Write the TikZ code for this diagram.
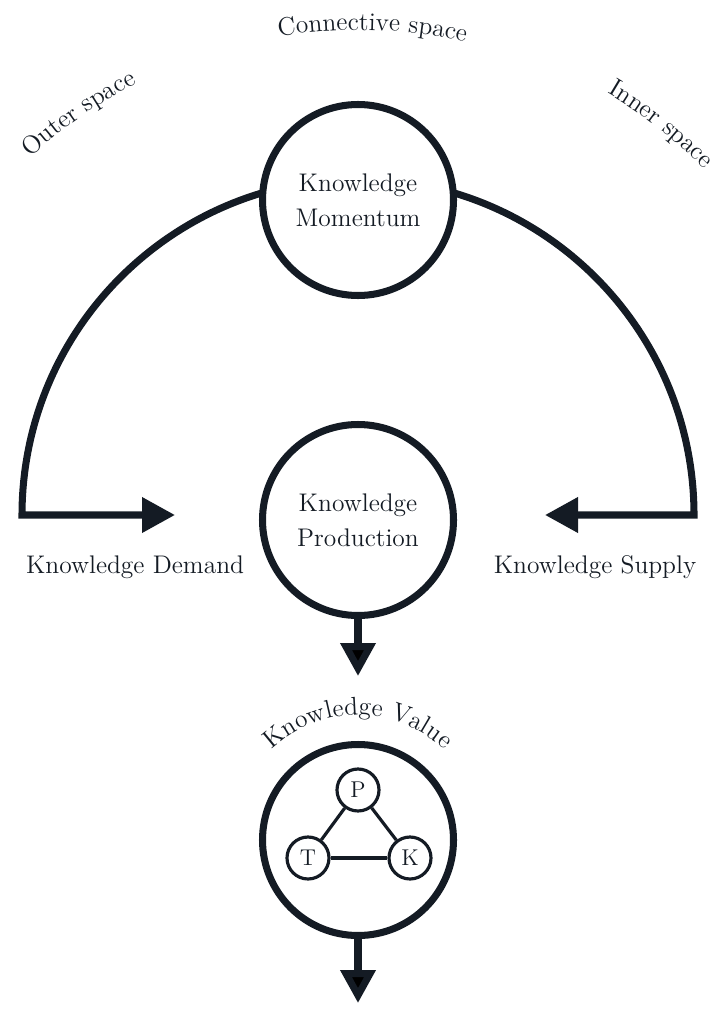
\documentclass[tikz,border=0pt]{standalone}
\usepackage{tikz}
\usetikzlibrary{arrows.meta,positioning,decorations.text}
\definecolor{ink}{HTML}{141B24}
\newcommand{\lblfont}{\fontsize{14.5}{18}\selectfont}

\begin{document}
\begin{tikzpicture}[
    big/.style={circle, draw=ink, line width=4pt, fill=white, minimum size=3.82cm, align=center, text=ink, font=\fontsize{14.5}{20}\selectfont},
    small/.style={circle, draw=ink, line width=1.8pt, fill=white, minimum size=0.84cm, inner sep=0pt, text=ink, font=\fontsize{13}{14}\selectfont},
    flow/.style={draw=ink, line width=4pt, -{Triangle[length=0.66cm, width=0.68cm]}},
    link/.style={draw=ink, line width=1.8pt},
    sidetext/.style={text=ink, font=\lblfont, anchor=base},
    curved/.style={decorate, decoration={text along path, text align=center, text color=ink}}
]
    \useasboundingbox (0,0) rectangle (14.38,-20.18);

    % hub of the big arc and its two ends
    \coordinate (hub) at (7.16,-10.3);
    \coordinate (lend) at (0.44,-10.3);
    \coordinate (rend) at (13.88,-10.3);
    \coordinate (dtip) at (3.5,-10.3);
    \coordinate (stip) at (10.9,-10.3);

    \draw[draw=ink, line width=4pt, line join=miter,
          {Triangle[length=0.66cm, width=0.68cm]}-{Triangle[length=0.66cm, width=0.68cm]}]
        (dtip) -- (lend) arc[start angle=180, end angle=0, radius=6.72] -- (stip);

    % space labels around the arc
    \path[curved, decoration={text={|\lblfont|Outer space}}]
        (hub) ++(144.8:9.7) arc[start angle=144.8, end angle=104.8, radius=9.7];
    \path[curved, decoration={text={|\lblfont|Connective space}}]
        (hub) ++(108.3:9.7) arc[start angle=108.3, end angle=68.3, radius=9.7];
    \path[curved, decoration={text={|\lblfont|Inner space}}]
        (hub) ++(72.2:9.8) arc[start angle=72.2, end angle=32.2, radius=9.8];

    \node[big] (momentum) at (7.16,-4.0) {Knowledge\\Momentum};
    \node[big] (production) at (7.16,-10.4) {Knowledge\\Production};
    \node[big] (value) at (7.16,-16.8) {};

    \node[sidetext] (demand) at (2.7,-11.46) {Knowledge Demand};
    \node[sidetext] (supply) at (11.9,-11.46) {Knowledge Supply};

    % triangle inside the value circle
    \node[small] (p) at (7.16,-15.8) {P};
    \node[small] (t) at (6.16,-17.16) {T};
    \node[small] (k) at (8.2,-17.16) {K};
    \draw[link] (p) -- (t);
    \draw[link] (p) -- (k);
    \draw[link] (t) -- (k);

    \path[curved, decoration={text={|\lblfont|Knowledge Value}}]
        (value.center) ++(150:2.5) arc[start angle=150, end angle=30, radius=2.5];

    \coordinate (out1) at (7.16,-13.52);
    \coordinate (out2) at (7.16,-20.06);
    \draw[flow] (production) -- (out1);
    \draw[flow] (value) -- (out2);
\end{tikzpicture}
\end{document}
